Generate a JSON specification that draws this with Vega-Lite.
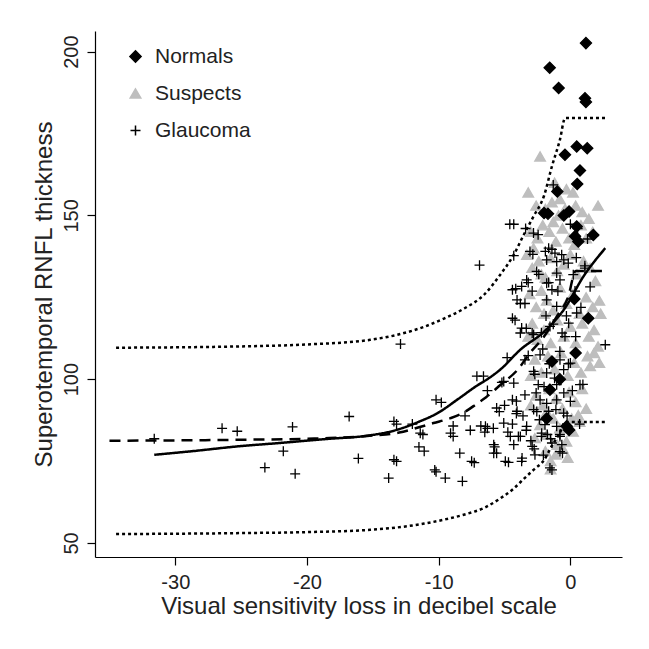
{
  "$schema": "https://vega.github.io/schema/vega-lite/v6.json",
  "width": 527,
  "height": 526,
  "autosize": "none",
  "padding": {"left": 95, "top": 31, "right": 27, "bottom": 92},
  "background": "white",
  "config": {
    "view": {"stroke": null},
    "font": "Liberation Sans"
  },
  "datasets": {
    "points": [
      {"g":"Suspects","x":-1.2,"y":160},{"g":"Suspects","x":-0.3,"y":158},{"g":"Suspects","x":0.2,"y":157},{"g":"Suspects","x":-0.8,"y":155},
      {"g":"Suspects","x":-2.6,"y":153},{"g":"Suspects","x":-1.9,"y":152},{"g":"Suspects","x":-1.4,"y":154},{"g":"Suspects","x":-0.9,"y":150},{"g":"Suspects","x":-0.4,"y":152},{"g":"Suspects","x":0.4,"y":153},{"g":"Suspects","x":0.9,"y":151},{"g":"Suspects","x":1.4,"y":149},{"g":"Suspects","x":-3.2,"y":157},{"g":"Suspects","x":-2.3,"y":168},{"g":"Suspects","x":2.1,"y":153},
      {"g":"Suspects","x":-3.0,"y":145},{"g":"Suspects","x":-2.5,"y":143},{"g":"Suspects","x":-2.1,"y":147},{"g":"Suspects","x":-1.6,"y":145},{"g":"Suspects","x":-1.1,"y":142},{"g":"Suspects","x":-0.6,"y":146},{"g":"Suspects","x":-0.1,"y":143},{"g":"Suspects","x":0.3,"y":141},{"g":"Suspects","x":0.8,"y":147},{"g":"Suspects","x":1.2,"y":143},{"g":"Suspects","x":1.7,"y":145},{"g":"Suspects","x":-2.8,"y":140},{"g":"Suspects","x":-1.3,"y":148},
      {"g":"Suspects","x":-3.3,"y":138},{"g":"Suspects","x":-2.9,"y":134},{"g":"Suspects","x":-2.4,"y":136},{"g":"Suspects","x":-1.9,"y":131},{"g":"Suspects","x":-1.5,"y":137},{"g":"Suspects","x":-1.0,"y":133},{"g":"Suspects","x":-0.5,"y":135},{"g":"Suspects","x":0.0,"y":138},{"g":"Suspects","x":0.5,"y":132},{"g":"Suspects","x":1.0,"y":136},{"g":"Suspects","x":1.5,"y":134},{"g":"Suspects","x":1.9,"y":130},{"g":"Suspects","x":-2.2,"y":132},
      {"g":"Suspects","x":-3.1,"y":126},{"g":"Suspects","x":-2.6,"y":122},{"g":"Suspects","x":-2.2,"y":127},{"g":"Suspects","x":-1.8,"y":124},{"g":"Suspects","x":-1.3,"y":121},{"g":"Suspects","x":-0.8,"y":128},{"g":"Suspects","x":-0.3,"y":123},{"g":"Suspects","x":0.2,"y":126},{"g":"Suspects","x":0.7,"y":120},{"g":"Suspects","x":1.2,"y":125},{"g":"Suspects","x":1.7,"y":122},{"g":"Suspects","x":2.2,"y":124},{"g":"Suspects","x":2.3,"y":120},{"g":"Suspects","x":-2.0,"y":120},
      {"g":"Suspects","x":-2.9,"y":117},{"g":"Suspects","x":-2.5,"y":112},{"g":"Suspects","x":-2.0,"y":115},{"g":"Suspects","x":-1.5,"y":111},{"g":"Suspects","x":-1.0,"y":118},{"g":"Suspects","x":-0.5,"y":113},{"g":"Suspects","x":0.0,"y":116},{"g":"Suspects","x":0.4,"y":111},{"g":"Suspects","x":0.9,"y":117},{"g":"Suspects","x":1.4,"y":113},{"g":"Suspects","x":1.8,"y":115},{"g":"Suspects","x":2.1,"y":110},{"g":"Suspects","x":-3.2,"y":113},
      {"g":"Suspects","x":-2.7,"y":106},{"g":"Suspects","x":-2.2,"y":102},{"g":"Suspects","x":-1.7,"y":107},{"g":"Suspects","x":-1.2,"y":103},{"g":"Suspects","x":-0.7,"y":108},{"g":"Suspects","x":-0.2,"y":101},{"g":"Suspects","x":0.3,"y":105},{"g":"Suspects","x":0.8,"y":102},{"g":"Suspects","x":1.3,"y":107},{"g":"Suspects","x":1.8,"y":108},{"g":"Suspects","x":2.2,"y":105},{"g":"Suspects","x":-3.0,"y":101},{"g":"Suspects","x":1.5,"y":104},
      {"g":"Suspects","x":-2.6,"y":95},{"g":"Suspects","x":-2.1,"y":92},{"g":"Suspects","x":-1.6,"y":97},{"g":"Suspects","x":-1.1,"y":94},{"g":"Suspects","x":-0.6,"y":91},{"g":"Suspects","x":-0.1,"y":96},{"g":"Suspects","x":0.4,"y":93},{"g":"Suspects","x":0.9,"y":97},{"g":"Suspects","x":1.2,"y":91},{"g":"Suspects","x":-3.0,"y":92},{"g":"Suspects","x":-1.8,"y":90},{"g":"Suspects","x":0.6,"y":89},
      {"g":"Suspects","x":-2.3,"y":86},{"g":"Suspects","x":-1.8,"y":83},{"g":"Suspects","x":-1.3,"y":88},{"g":"Suspects","x":-0.8,"y":85},{"g":"Suspects","x":-0.3,"y":81},{"g":"Suspects","x":0.2,"y":84},{"g":"Suspects","x":0.7,"y":87},{"g":"Suspects","x":-2.7,"y":82},{"g":"Suspects","x":-1.0,"y":80},{"g":"Suspects","x":0.1,"y":88},
      {"g":"Suspects","x":-1.9,"y":78},{"g":"Suspects","x":-1.5,"y":75},{"g":"Suspects","x":-1.1,"y":77},{"g":"Suspects","x":-0.6,"y":79},{"g":"Suspects","x":-1.5,"y":72.5},{"g":"Suspects","x":-0.2,"y":76},
      {"g":"Normals","x":1.18,"y":202.6},{"g":"Normals","x":-1.57,"y":195.1},{"g":"Normals","x":-0.89,"y":188.9},{"g":"Normals","x":1.11,"y":185.8},{"g":"Normals","x":1.18,"y":184.6},{"g":"Normals","x":-0.41,"y":168.5},{"g":"Normals","x":0.48,"y":171},{"g":"Normals","x":1.28,"y":170.5},{"g":"Normals","x":0.73,"y":163.7},{"g":"Normals","x":0.52,"y":159.6},{"g":"Normals","x":-0.99,"y":157.3},{"g":"Normals","x":-2.0,"y":150.7},{"g":"Normals","x":-1.7,"y":150.5},{"g":"Normals","x":-0.1,"y":151.2},{"g":"Normals","x":-0.5,"y":150},{"g":"Normals","x":0.48,"y":146.6},{"g":"Normals","x":0.35,"y":143.6},{"g":"Normals","x":1.74,"y":144},{"g":"Normals","x":0.6,"y":142},{"g":"Normals","x":1.36,"y":118.6},{"g":"Normals","x":0.3,"y":124.5},{"g":"Normals","x":-0.28,"y":85.6},{"g":"Normals","x":-0.1,"y":84.5},{"g":"Normals","x":-1.4,"y":105.4},{"g":"Normals","x":-1.55,"y":96.8},{"g":"Normals","x":-0.8,"y":100},{"g":"Normals","x":0.4,"y":108},{"g":"Normals","x":-1.8,"y":88},
      {"g":"Glaucoma","x":-31.6,"y":81.8},{"g":"Glaucoma","x":-26.45,"y":85},{"g":"Glaucoma","x":-25.3,"y":84.1},{"g":"Glaucoma","x":-23.2,"y":73},{"g":"Glaucoma","x":-21.8,"y":78},{"g":"Glaucoma","x":-21.1,"y":85.4},{"g":"Glaucoma","x":-20.9,"y":71.1},{"g":"Glaucoma","x":-16.8,"y":88.6},{"g":"Glaucoma","x":-16.1,"y":75.8},{"g":"Glaucoma","x":-13.8,"y":69.8},{"g":"Glaucoma","x":-13.2,"y":86.3},{"g":"Glaucoma","x":-13.2,"y":74.9},{"g":"Glaucoma","x":-12.9,"y":110.7},{"g":"Glaucoma","x":-12.0,"y":86.3},{"g":"Glaucoma","x":-11.5,"y":79.3},{"g":"Glaucoma","x":-11.2,"y":83.1},{"g":"Glaucoma","x":-11.1,"y":78},{"g":"Glaucoma","x":-10.2,"y":71.7},{"g":"Glaucoma","x":-9.8,"y":92.9},{"g":"Glaucoma","x":-9.5,"y":69.8},{"g":"Glaucoma","x":-8.9,"y":85.7},{"g":"Glaucoma","x":-8.9,"y":82.5},{"g":"Glaucoma","x":-8.4,"y":77.4},{"g":"Glaucoma","x":-8.2,"y":68.8},{"g":"Glaucoma","x":-8.0,"y":88.8},{"g":"Glaucoma","x":-7.6,"y":84.4},{"g":"Glaucoma","x":-7.3,"y":74.5},{"g":"Glaucoma","x":-7.1,"y":100.9},{"g":"Glaucoma","x":-6.6,"y":100.9},{"g":"Glaucoma","x":-6.9,"y":134.8},{"g":"Glaucoma","x":-6.8,"y":85.7},{"g":"Glaucoma","x":-6.5,"y":83.8},{"g":"Glaucoma","x":-6.3,"y":85},{"g":"Glaucoma","x":-6.3,"y":96.5},{"g":"Glaucoma","x":-5.85,"y":85},{"g":"Glaucoma","x":-5.75,"y":79.3},{"g":"Glaucoma","x":-5.6,"y":77.4},{"g":"Glaucoma","x":-5.4,"y":90.1},{"g":"Glaucoma","x":-5.2,"y":99},{"g":"Glaucoma","x":-5.0,"y":92},{"g":"Glaucoma","x":-4.8,"y":106.6},{"g":"Glaucoma","x":-4.75,"y":83.8},{"g":"Glaucoma","x":-4.7,"y":74.6},{"g":"Glaucoma","x":-4.6,"y":147.3},{"g":"Glaucoma","x":-4.3,"y":147.3},{"g":"Glaucoma","x":-4.4,"y":86.3},{"g":"Glaucoma","x":-4.3,"y":137.7},{"g":"Glaucoma","x":-4.2,"y":118},{"g":"Glaucoma","x":-4.15,"y":127.6},{"g":"Glaucoma","x":-4.1,"y":89.5},{"g":"Glaucoma","x":-4.1,"y":93.3},{"g":"Glaucoma","x":-3.95,"y":82.5},{"g":"Glaucoma","x":-3.8,"y":123.1},{"g":"Glaucoma","x":-3.7,"y":74.9},{"g":"Glaucoma","x":-3.6,"y":88.8},{"g":"Glaucoma","x":-3.45,"y":123.1},{"g":"Glaucoma","x":-3.4,"y":146},{"g":"Glaucoma","x":-3.35,"y":115.5},{"g":"Glaucoma","x":-3.35,"y":84.4},{"g":"Glaucoma","x":-3.2,"y":107.2},{"g":"Glaucoma","x":-3.2,"y":129.5},{"g":"Glaucoma","x":-3.0,"y":81.2},{"g":"Glaucoma","x":-2.9,"y":126.9},{"g":"Glaucoma","x":-2.85,"y":138.1},{"g":"Glaucoma","x":-2.75,"y":78.7},{"g":"Glaucoma","x":-2.7,"y":101.5},{"g":"Glaucoma","x":-2.6,"y":95.8},{"g":"Glaucoma","x":-2.55,"y":90.1},{"g":"Glaucoma","x":-2.45,"y":144.1},{"g":"Glaucoma","x":-2.4,"y":132},{"g":"Glaucoma","x":-2.35,"y":87.6},{"g":"Glaucoma","x":-2.2,"y":82.5},{"g":"Glaucoma","x":-2.2,"y":114.2},{"g":"Glaucoma","x":-2.1,"y":109.2},{"g":"Glaucoma","x":-2.05,"y":76.8},{"g":"Glaucoma","x":-2.0,"y":97.7},{"g":"Glaucoma","x":-1.9,"y":139},{"g":"Glaucoma","x":-1.85,"y":119.3},{"g":"Glaucoma","x":-1.8,"y":92.6},{"g":"Glaucoma","x":-1.75,"y":83.1},{"g":"Glaucoma","x":-1.65,"y":129.5},{"g":"Glaucoma","x":-1.6,"y":104.7},{"g":"Glaucoma","x":-1.5,"y":81.8},{"g":"Glaucoma","x":-1.4,"y":139.6},{"g":"Glaucoma","x":-1.4,"y":72.3},{"g":"Glaucoma","x":-1.3,"y":159.3},{"g":"Glaucoma","x":-1.3,"y":116.8},{"g":"Glaucoma","x":-1.2,"y":100.3},{"g":"Glaucoma","x":-1.1,"y":90.7},{"g":"Glaucoma","x":-0.95,"y":126.9},{"g":"Glaucoma","x":-0.8,"y":108.5},{"g":"Glaucoma","x":-0.8,"y":83.1},{"g":"Glaucoma","x":-0.65,"y":80},{"g":"Glaucoma","x":-0.6,"y":77.4},{"g":"Glaucoma","x":-0.5,"y":136.4},{"g":"Glaucoma","x":-0.5,"y":95.8},{"g":"Glaucoma","x":-0.3,"y":119.3},{"g":"Glaucoma","x":-0.25,"y":88.8},{"g":"Glaucoma","x":-0.15,"y":104.7},{"g":"Glaucoma","x":0,"y":147.3},{"g":"Glaucoma","x":0.15,"y":96.5},{"g":"Glaucoma","x":0.35,"y":126.9},{"g":"Glaucoma","x":0.4,"y":113},{"g":"Glaucoma","x":0.45,"y":137.1},{"g":"Glaucoma","x":0.55,"y":146},{"g":"Glaucoma","x":0.7,"y":86.3},{"g":"Glaucoma","x":0.8,"y":121.9},{"g":"Glaucoma","x":0.95,"y":98.4},{"g":"Glaucoma","x":1.1,"y":134.6},{"g":"Glaucoma","x":1.3,"y":142.8},{"g":"Glaucoma","x":1.5,"y":128.2},{"g":"Glaucoma","x":2.65,"y":110.5},
      {"g":"Glaucoma","x":-2.8,"y":144.6},{"g":"Glaucoma","x":-3.07,"y":139},{"g":"Glaucoma","x":-1.65,"y":140},{"g":"Glaucoma","x":-1.17,"y":138.5},{"g":"Glaucoma","x":-0.66,"y":138},{"g":"Glaucoma","x":-1.8,"y":136.4},{"g":"Glaucoma","x":-1.04,"y":135.9},{"g":"Glaucoma","x":-0.16,"y":135.4},{"g":"Glaucoma","x":-2.56,"y":132.9},{"g":"Glaucoma","x":-1.04,"y":132.4},{"g":"Glaucoma","x":0.22,"y":131.9},{"g":"Glaucoma","x":1.1,"y":133.9},{"g":"Glaucoma","x":-3.32,"y":130.3},{"g":"Glaucoma","x":-4.4,"y":127.3},{"g":"Glaucoma","x":-3.7,"y":128.3},{"g":"Glaucoma","x":-1.8,"y":129.3},{"g":"Glaucoma","x":-1.4,"y":127.3},{"g":"Glaucoma","x":-0.79,"y":130.3},{"g":"Glaucoma","x":-4.05,"y":124.2},{"g":"Glaucoma","x":-1.8,"y":124.2},{"g":"Glaucoma","x":-1.04,"y":122.2},{"g":"Glaucoma","x":0.48,"y":120.2},{"g":"Glaucoma","x":-4.4,"y":118.6},{"g":"Glaucoma","x":-3.7,"y":115.6},{"g":"Glaucoma","x":-2.9,"y":114.1},{"g":"Glaucoma","x":-1.55,"y":116.1},{"g":"Glaucoma","x":-0.13,"y":117.1},{"g":"Glaucoma","x":-0.63,"y":114.1},{"g":"Glaucoma","x":-3.8,"y":114.1},{"g":"Glaucoma","x":-2.79,"y":113.6},{"g":"Glaucoma","x":-0.41,"y":113},{"g":"Glaucoma","x":-3.45,"y":105.9},{"g":"Glaucoma","x":-2.3,"y":107.4},{"g":"Glaucoma","x":-0.79,"y":105.9},{"g":"Glaucoma","x":0,"y":104.9},{"g":"Glaucoma","x":-2.79,"y":102.4},{"g":"Glaucoma","x":-1.8,"y":101.9},{"g":"Glaucoma","x":-0.51,"y":102.9},{"g":"Glaucoma","x":-5.06,"y":99.3},{"g":"Glaucoma","x":-4.3,"y":98.8},{"g":"Glaucoma","x":-2.44,"y":98.3},{"g":"Glaucoma","x":-1.04,"y":98.3},{"g":"Glaucoma","x":0.73,"y":98.3},{"g":"Glaucoma","x":-4.4,"y":93.7},{"g":"Glaucoma","x":-3.45,"y":95.2},{"g":"Glaucoma","x":-2.3,"y":93.7},{"g":"Glaucoma","x":-1.04,"y":93.7},{"g":"Glaucoma","x":0,"y":93.2},{"g":"Glaucoma","x":-5.6,"y":91.2},{"g":"Glaucoma","x":-4.05,"y":90.2},{"g":"Glaucoma","x":-2.79,"y":90.7},{"g":"Glaucoma","x":-1.65,"y":90.2},{"g":"Glaucoma","x":-0.51,"y":89.6},{"g":"Glaucoma","x":-6.45,"y":85.6},{"g":"Glaucoma","x":-5.06,"y":86.6},{"g":"Glaucoma","x":-3.32,"y":85.6},{"g":"Glaucoma","x":-1.93,"y":86.1},{"g":"Glaucoma","x":-1.04,"y":85.6},{"g":"Glaucoma","x":-4.56,"y":82.5},{"g":"Glaucoma","x":-3.8,"y":82.5},{"g":"Glaucoma","x":-2.18,"y":83.5},{"g":"Glaucoma","x":-0.79,"y":82.5},{"g":"Glaucoma","x":-5.82,"y":80},{"g":"Glaucoma","x":-4.3,"y":80},{"g":"Glaucoma","x":-2.9,"y":79.5},{"g":"Glaucoma","x":-1.4,"y":80.5},{"g":"Glaucoma","x":-5.82,"y":77.4},{"g":"Glaucoma","x":-0.79,"y":77.9},{"g":"Glaucoma","x":-4.94,"y":74.9},{"g":"Glaucoma","x":-3.67,"y":75.9},{"g":"Glaucoma","x":-2.69,"y":76.9},{"g":"Glaucoma","x":-1.55,"y":72.9},
      {"g":"Glaucoma","x":-13.4,"y":75.4},{"g":"Glaucoma","x":-10.3,"y":72.3},{"g":"Glaucoma","x":-7.5,"y":74.9},{"g":"Glaucoma","x":-13.4,"y":87.1},{"g":"Glaucoma","x":-10.2,"y":93.7},{"g":"Glaucoma","x":-11.4,"y":83.5},{"g":"Glaucoma","x":-9.1,"y":83.5}
    ],
    "curves": [
      {"c":"upper","x":-34.5,"y":109.6},{"c":"upper","x":-25,"y":110},{"c":"upper","x":-20,"y":110.6},{"c":"upper","x":-15.2,"y":112},{"c":"upper","x":-13.2,"y":113.5},{"c":"upper","x":-11.1,"y":116},{"c":"upper","x":-9.6,"y":118.5},{"c":"upper","x":-8.1,"y":121.5},{"c":"upper","x":-6.5,"y":126},{"c":"upper","x":-5.4,"y":131.5},{"c":"upper","x":-4.3,"y":138},{"c":"upper","x":-3.55,"y":144},{"c":"upper","x":-2.8,"y":149.7},{"c":"upper","x":-2.0,"y":156},{"c":"upper","x":-1.4,"y":165},{"c":"upper","x":-0.8,"y":173},{"c":"upper","x":-0.4,"y":179.7},{"c":"upper","x":2.8,"y":179.7},
      {"c":"lower","x":-34.5,"y":52.7},{"c":"lower","x":-25,"y":53},{"c":"lower","x":-20,"y":53.3},{"c":"lower","x":-15.2,"y":54},{"c":"lower","x":-13.2,"y":54.7},{"c":"lower","x":-11.1,"y":55.9},{"c":"lower","x":-9.6,"y":57.1},{"c":"lower","x":-8.1,"y":58.6},{"c":"lower","x":-6.5,"y":60.8},{"c":"lower","x":-5.4,"y":63.4},{"c":"lower","x":-4.3,"y":66.6},{"c":"lower","x":-3.55,"y":69.5},{"c":"lower","x":-2.8,"y":72.3},{"c":"lower","x":-2.0,"y":75.3},{"c":"lower","x":-1.4,"y":79.7},{"c":"lower","x":-0.8,"y":83.6},{"c":"lower","x":-0.4,"y":86.9},{"c":"lower","x":2.8,"y":86.9},
      {"c":"dashed","x":-35,"y":81.2},{"c":"dashed","x":-30,"y":81.3},{"c":"dashed","x":-25,"y":81.5},{"c":"dashed","x":-20,"y":81.8},{"c":"dashed","x":-18.3,"y":82},{"c":"dashed","x":-15,"y":82.8},{"c":"dashed","x":-13,"y":83.7},{"c":"dashed","x":-11.5,"y":85.3},{"c":"dashed","x":-10.4,"y":86.6},{"c":"dashed","x":-9.1,"y":88.1},{"c":"dashed","x":-8.1,"y":89.8},{"c":"dashed","x":-7.1,"y":92.5},{"c":"dashed","x":-6.4,"y":94.5},{"c":"dashed","x":-5.3,"y":98.3},{"c":"dashed","x":-4.0,"y":102.9},{"c":"dashed","x":-3.07,"y":108},{"c":"dashed","x":-2.0,"y":113},{"c":"dashed","x":-1.04,"y":119.1},{"c":"dashed","x":-0.16,"y":125.2},{"c":"dashed","x":0.4,"y":133},{"c":"dashed","x":2.8,"y":133},
      {"c":"solid","x":-31.6,"y":76.9},{"c":"solid","x":-28.5,"y":78.1},{"c":"solid","x":-25.2,"y":79.5},{"c":"solid","x":-22.1,"y":80.5},{"c":"solid","x":-18.3,"y":81.8},{"c":"solid","x":-15.7,"y":82.6},{"c":"solid","x":-13.2,"y":84.5},{"c":"solid","x":-11.5,"y":87},{"c":"solid","x":-10.1,"y":89.6},{"c":"solid","x":-8.5,"y":94},{"c":"solid","x":-7.1,"y":98},{"c":"solid","x":-6.3,"y":100},{"c":"solid","x":-5.3,"y":103},{"c":"solid","x":-3.8,"y":109},{"c":"solid","x":-2.0,"y":114.5},{"c":"solid","x":-0.5,"y":121.2},{"c":"solid","x":1.0,"y":131.4},{"c":"solid","x":2.65,"y":140}
    ]
  },
  "layer": [
    {
      "data": {"name": "points"},
      "mark": {"type": "point", "filled": true, "opacity": 1, "strokeWidth": 1.3},
      "encoding": {
        "x": {"field": "x", "type": "quantitative",
              "scale": {"domain": [-36.1, 3.92], "nice": false, "zero": false},
              "axis": {"values": [-30, -20, -10, 0], "grid": false, "tickSize": 8, "tickColor": "black", "domainColor": "black", "domainWidth": 1.2, "tickWidth": 1.2,
                       "labelFontSize": 20, "labelColor": "#222", "labelPadding": 7, "labelExpr": "'' + datum.value",
                       "title": "Visual sensitivity loss in decibel scale", "titleFontSize": 24, "titleFontWeight": "normal", "titleColor": "#222",
                       "titleBaseline": "alphabetic", "titleY": 56}},
        "y": {"field": "y", "type": "quantitative",
              "scale": {"domain": [45.7, 206.3], "nice": false, "zero": false},
              "axis": {"values": [50, 100, 150, 200], "grid": false, "tickSize": 8, "tickColor": "black", "domainColor": "black", "domainWidth": 1.2, "tickWidth": 1.2,
                       "labelFontSize": 20, "labelColor": "#222", "labelAngle": 270, "labelAlign": "center", "labelBaseline": "alphabetic", "labelPadding": 10,
                       "title": "Superotemporal RNFL thickness", "titleFontSize": 24, "titleFontWeight": "normal", "titleColor": "#222",
                       "titleAngle": 270, "titleBaseline": "alphabetic", "titleX": -44}},
        "color": {"field": "g", "type": "nominal",
                  "scale": {"domain": ["Normals", "Suspects", "Glaucoma"], "range": ["#000000", "#bebebe", "#000000"]},
                  "legend": {"orient": "none", "legendX": 30, "legendY": 15, "title": null, "labelFontSize": 21, "labelColor": "#222", "rowPadding": 15, "labelOffset": 9, "padding": 0}},
        "stroke": {"field": "g", "type": "nominal",
                  "scale": {"domain": ["Normals", "Suspects", "Glaucoma"], "range": ["#000000", "#bebebe", "#000000"]},
                  "legend": {"orient": "none", "legendX": 30, "legendY": 15, "title": null, "labelFontSize": 21, "labelColor": "#222", "rowPadding": 15, "labelOffset": 9, "padding": 0}},
        "shape": {"field": "g", "type": "nominal",
                  "scale": {"domain": ["Normals", "Suspects", "Glaucoma"], "range": ["diamond", "triangle-up", "M-1,0L1,0M0,-1L0,1"]},
                  "legend": {"orient": "none", "legendX": 30, "legendY": 15, "title": null, "labelFontSize": 21, "labelColor": "#222", "rowPadding": 15, "labelOffset": 9, "padding": 0}},
        "size": {"field": "g", "type": "nominal",
                  "scale": {"domain": ["Normals", "Suspects", "Glaucoma"], "range": [125, 100, 81]},
                  "legend": {"orient": "none", "legendX": 30, "legendY": 15, "title": null, "labelFontSize": 21, "labelColor": "#222", "rowPadding": 15, "labelOffset": 9, "padding": 0}}
      }
    },
    {
      "data": {"name": "curves"},
      "mark": {"type": "line", "color": "black", "strokeWidth": 2.5, "strokeCap": "butt", "interpolate": "monotone"},
      "encoding": {
        "x": {"field": "x", "type": "quantitative"},
        "y": {"field": "y", "type": "quantitative"},
        "strokeDash": {"field": "c", "type": "nominal",
                       "scale": {"domain": ["upper", "lower", "dashed", "solid"], "range": [[3, 3], [3, 3], [11, 7], [1, 0]]},
                       "legend": null}
      }
    }
  ]
}
